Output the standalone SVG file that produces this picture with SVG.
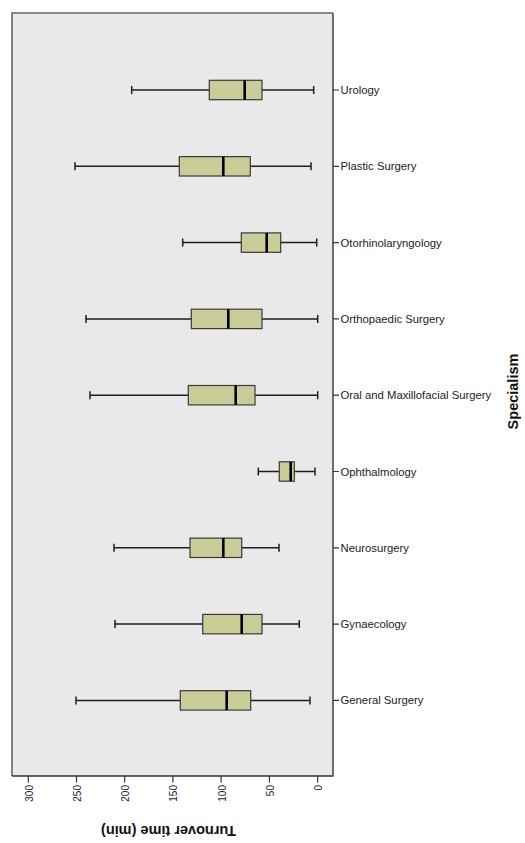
<svg xmlns="http://www.w3.org/2000/svg" width="525" height="843" viewBox="0 0 525 843">
<style>
.bg{fill:#e9e9e9;stroke:none}
.frame{fill:none;stroke:#666;stroke-width:1.6}
.axis{stroke:#333;stroke-width:1.4;fill:none}
.tick{stroke:#333;stroke-width:1.2}
.wh{stroke:#1e1e1e;stroke-width:1.5;fill:none}
.box{fill:#c9cc96;stroke:#3a3a3a;stroke-width:1.2}
.med{stroke:#000;stroke-width:2.6}
.cat{font-family:"Liberation Sans",Arial,sans-serif;font-size:11.3px;fill:#222}
.tl{font-family:"Liberation Sans",Arial,sans-serif;font-size:10px;fill:#222;text-anchor:end}
.title{font-family:"Liberation Sans",Arial,sans-serif;font-size:14.5px;font-weight:bold;fill:#111;text-anchor:middle}
</style>
<rect x="0" y="0" width="525" height="843" fill="#fff"/>
<rect class="bg" x="12" y="13" width="321" height="763"/>
<path class="frame" d="M12,776 V13 H333"/>
<path class="axis" d="M333,13 V776 H12"/>

<g id="value-axis">
<path class="tick" d="M28.3,776v6.5M76.5,776v6.5M124.7,776v6.5M172.9,776v6.5M221.1,776v6.5M269.4,776v6.5M317.7,776v6.5"/>
<text class="tl" transform="translate(32.8,785) rotate(-90)">300</text>
<text class="tl" transform="translate(81,785) rotate(-90)">250</text>
<text class="tl" transform="translate(129.2,785) rotate(-90)">200</text>
<text class="tl" transform="translate(177.4,785) rotate(-90)">150</text>
<text class="tl" transform="translate(225.6,785) rotate(-90)">100</text>
<text class="tl" transform="translate(273.9,785) rotate(-90)">50</text>
<text class="tl" transform="translate(322.2,785) rotate(-90)">0</text>
<text class="title" transform="translate(168.5,826) rotate(180)">Turnover time (min)</text>
</g>

<g id="category-axis">
<path class="tick" d="M333,90h6M333,166.3h6M333,242.6h6M333,318.9h6M333,395.2h6M333,471.5h6M333,547.8h6M333,624.1h6M333,700.4h6"/>
<text class="cat" x="340.5" y="94">Urology</text>
<text class="cat" x="340.5" y="170.3">Plastic Surgery</text>
<text class="cat" x="340.5" y="246.6">Otorhinolaryngology</text>
<text class="cat" x="340.5" y="322.9">Orthopaedic Surgery</text>
<text class="cat" x="340.5" y="399.2">Oral and Maxillofacial Surgery</text>
<text class="cat" x="340.5" y="475.5">Ophthalmology</text>
<text class="cat" x="340.5" y="551.8">Neurosurgery</text>
<text class="cat" x="340.5" y="628.1">Gynaecology</text>
<text class="cat" x="340.5" y="704.4">General Surgery</text>
<text class="title" transform="translate(518,391.5) rotate(-90)">Specialism</text>
</g>

<g id="urology" transform="translate(0,90)">
<path class="wh" d="M131.7,0H209.3M262,0H313.7M131.7,-4v8M313.7,-4v8"/>
<rect class="box" x="209.3" y="-9.7" width="52.7" height="19.4"/>
<path class="med" d="M244.7,-9.7v19.4"/>
</g>
<g id="plastic-surgery" transform="translate(0,166.3)">
<path class="wh" d="M75,0H179.3M250.3,0H311M75,-4v8M311,-4v8"/>
<rect class="box" x="179.3" y="-9.7" width="71" height="19.4"/>
<path class="med" d="M223.3,-9.7v19.4"/>
</g>
<g id="otorhinolaryngology" transform="translate(0,242.6)">
<path class="wh" d="M182.7,0H241.3M280.7,0H316.7M182.7,-4v8M316.7,-4v8"/>
<rect class="box" x="241.3" y="-9.7" width="39.4" height="19.4"/>
<path class="med" d="M266.7,-9.7v19.4"/>
</g>
<g id="orthopaedic-surgery" transform="translate(0,318.9)">
<path class="wh" d="M86,0H191.3M262,0H317.7M86,-4v8M317.7,-4v8"/>
<rect class="box" x="191.3" y="-9.7" width="70.7" height="19.4"/>
<path class="med" d="M228.3,-9.7v19.4"/>
</g>
<g id="oral-maxillofacial-surgery" transform="translate(0,395.2)">
<path class="wh" d="M90,0H188.3M255,0H317.7M90,-4v8M317.7,-4v8"/>
<rect class="box" x="188.3" y="-9.7" width="66.7" height="19.4"/>
<path class="med" d="M235.7,-9.7v19.4"/>
</g>
<g id="ophthalmology" transform="translate(0,471.5)">
<path class="wh" d="M258.3,0H279.3M294.3,0H315M258.3,-4v8M315,-4v8"/>
<rect class="box" x="279.3" y="-9.7" width="15" height="19.4"/>
<path class="med" d="M290.7,-9.7v19.4"/>
</g>
<g id="neurosurgery" transform="translate(0,547.8)">
<path class="wh" d="M114,0H190M241.7,0H279M114,-4v8M279,-4v8"/>
<rect class="box" x="190" y="-9.7" width="51.7" height="19.4"/>
<path class="med" d="M223.3,-9.7v19.4"/>
</g>
<g id="gynaecology" transform="translate(0,624.1)">
<path class="wh" d="M115,0H202.7M262,0H299.3M115,-4v8M299.3,-4v8"/>
<rect class="box" x="202.7" y="-9.7" width="59.3" height="19.4"/>
<path class="med" d="M241.7,-9.7v19.4"/>
</g>
<g id="general-surgery" transform="translate(0,700.4)">
<path class="wh" d="M76,0H180.3M250.7,0H310M76,-4v8M310,-4v8"/>
<rect class="box" x="180.3" y="-9.7" width="70.4" height="19.4"/>
<path class="med" d="M226.7,-9.7v19.4"/>
</g>
<g id="connectors"/>
</svg>
